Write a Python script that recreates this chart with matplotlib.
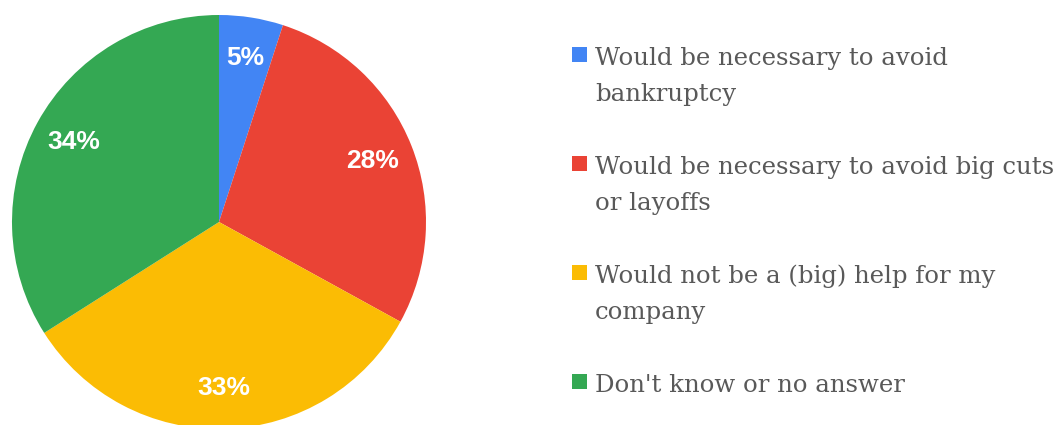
import matplotlib
matplotlib.use("Agg")
import matplotlib.pyplot as plt
from matplotlib.patches import Rectangle

labels = [
    "Would be necessary to avoid\nbankruptcy",
    "Would be necessary to avoid big cuts\nor layoffs",
    "Would not be a (big) help for my\ncompany",
    "Don't know or no answer",
]
shares = [5, 28, 33, 34]
colors = ["#4285F4", "#EA4335", "#FBBC04", "#34A853"]

W, H = 1062, 425
fig = plt.figure(figsize=(W / 100, H / 100), dpi=100)

# pie axes: center (219, 221) px, radius 207 px
cx, cy, r = 219, 222, 207
ax = fig.add_axes([(cx - r) / W, (H - cy - r) / H, 2 * r / W, 2 * r / H])
wedges, _, autotexts = ax.pie(
    shares, colors=colors, startangle=90, counterclock=False, radius=1,
    autopct="%d%%", pctdistance=0.8,
    wedgeprops=dict(linewidth=0),
    textprops=dict(color="white", fontsize=19, fontweight="bold", family="Liberation Sans"),
)
for w in wedges:
    w.set_clip_on(False)
ax.set_xlim(-1, 1)
ax.set_ylim(-1, 1)
ax.set_aspect("equal")
ax.axis("off")

# legend entries drawn by hand so line wrapping matches
sq = 15
first_base = 65   # baseline of first line, px from top
step = 109        # distance between entries
line_h = 36       # distance between wrapped lines
for i, (lab, w) in enumerate(zip(labels, wedges)):
    base = first_base + i * step
    fig.patches.append(Rectangle((572 / W, (H - base + 3) / H), sq / W, sq / H,
                                 transform=fig.transFigure, facecolor=w.get_facecolor(),
                                 edgecolor="none"))
    for k, line in enumerate(lab.split("\n")):
        fig.text(595 / W, (H - base - k * line_h) / H, line, ha="left", va="baseline",
                 fontsize=17.6, family="DejaVu Serif", color="#595959")

fig.savefig("out.png", dpi=100)
